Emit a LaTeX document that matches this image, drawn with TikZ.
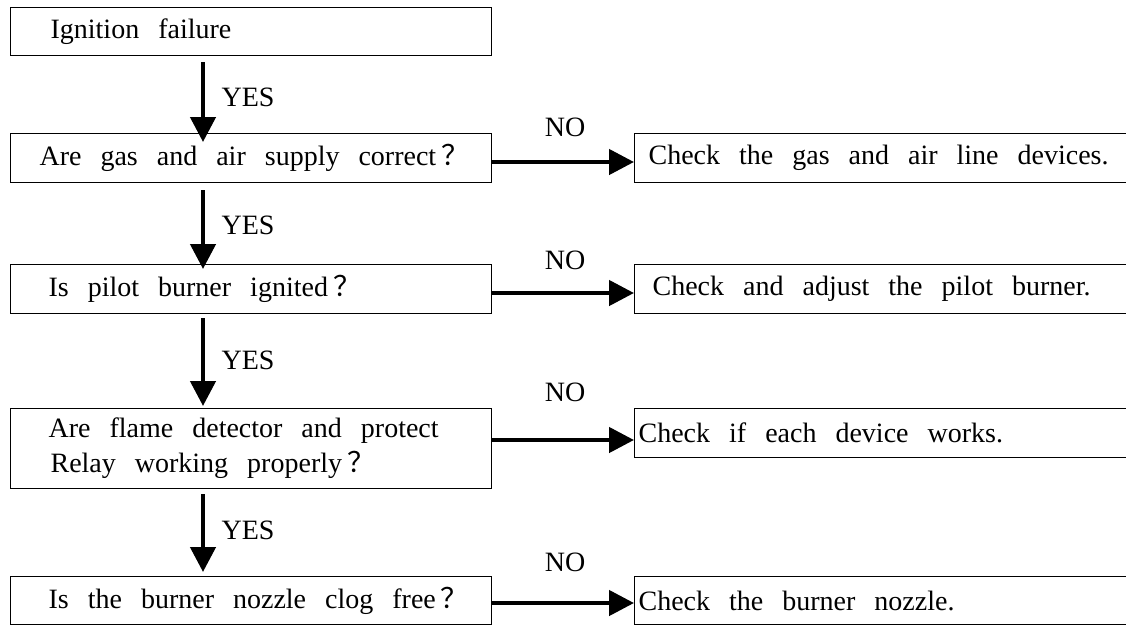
\documentclass[tikz,border=0pt]{standalone}
\usepackage{fontspec}
\setmainfont{Liberation Serif}
\newfontfamily\cjk{Noto Sans CJK SC}
\usetikzlibrary{arrows.meta}
\newcommand{\fq}{\hskip5pt{\cjk ？}}
\newcommand{\nodefont}{\fontsize{28pt}{35pt}\selectfont}
\newcommand{\ind}[1]{\spaceskip=19pt\relax\mbox{}\hskip#1pt\relax}
\begin{document}
\begin{tikzpicture}[x=1pt,y=-1pt,
  every node/.style={font=\nodefont},
  box/.style={draw, line width=1.2pt, anchor=north west, inner xsep=0pt, inner ysep=0pt, align=left},
  lbox/.style={box, text width=481pt},
  rbox/.style={box, text width=540pt},
  flow/.style={line width=4.5pt, -{Triangle[length=25pt,width=25pt]}},
  lab/.style={inner sep=0pt}]
\clip (0,0) rectangle (1126,624);
\fill[white] (0,0) rectangle (1126,624);
% left column
\node[lbox, minimum height=48pt] (b0) at (10,7) {\ind{40}Ignition failure};
\node[lbox, minimum height=49pt] (q1) at (10,133) {\ind{29}Are gas and air supply correct\fq};
\node[lbox, minimum height=49pt] (q2) at (10,264) {\ind{38}Is pilot burner ignited\fq};
\node[lbox, minimum height=80pt] (q3) at (10,408) {\ind{38}Are flame detector and protect\\\ind{40}Relay working properly\fq};
\node[lbox, minimum height=48pt] (q4) at (10,576) {\ind{38}Is the burner nozzle clog free\fq};
% right column
\node[rbox, minimum height=49pt] (ra) at (634,133) {\ind{14}Check the gas and air line devices.};
\node[rbox, minimum height=49pt] (rb) at (634,264) {\ind{18}Check and adjust the pilot burner.};
\node[rbox, minimum height=49pt] (rc) at (634,408) {\ind{4}Check if each device works.};
\node[rbox, minimum height=48pt] (rd) at (634,576) {\ind{4}Check the burner nozzle.};
% labels
\node[lab] (y1) at (248,97) {YES};
\node[lab] (y2) at (248,225) {YES};
\node[lab] (y3) at (248,360) {YES};
\node[lab] (y4) at (248,530) {YES};
\node[lab] (n1) at (565,127) {NO};
\node[lab] (n2) at (565,260) {NO};
\node[lab] (n3) at (565,392) {NO};
\node[lab] (n4) at (565,562) {NO};
% vertical arrows
\draw[flow] ([xshift=193pt,yshift=-6pt]b0.south west) -- ([xshift=193pt,yshift=-9pt]q1.north west);
\draw[flow] ([xshift=193pt,yshift=-7pt]q1.south west) -- ([xshift=193pt,yshift=-5pt]q2.north west);
\draw[flow] ([xshift=193pt,yshift=-4pt]q2.south west) -- ([xshift=193pt,yshift=2pt]q3.north west);
\draw[flow] ([xshift=193pt,yshift=-5pt]q3.south west) -- ([xshift=193pt,yshift=4pt]q4.north west);
% horizontal arrows
\draw[flow] (q1.east |- 0,162) -- (ra.west |- 0,162);
\draw[flow] (q2.east |- 0,293) -- (rb.west |- 0,293);
\draw[flow] (q3.east |- 0,440) -- (rc.west |- 0,440);
\draw[flow] (q4.east |- 0,603) -- (rd.west |- 0,603);
\end{tikzpicture}
\end{document}
